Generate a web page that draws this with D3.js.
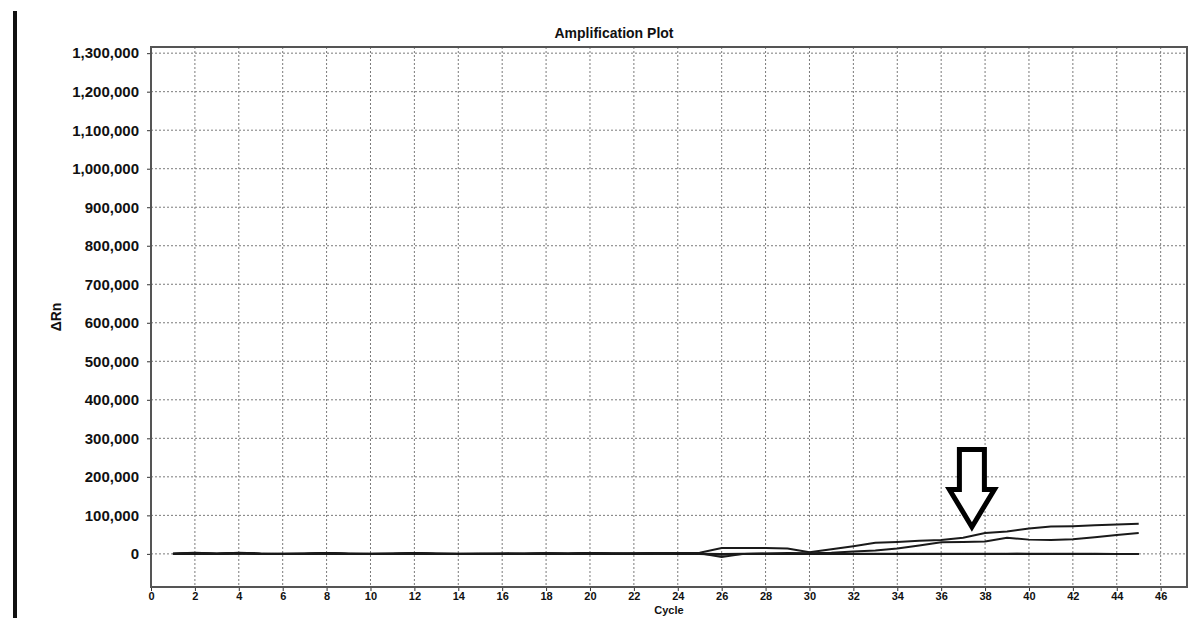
<!DOCTYPE html>
<html>
<head>
<meta charset="utf-8">
<script src="https://cdn.jsdelivr.net/npm/d3@7"></script>
<style>
  body { margin: 0; background: #fff; }
  text { font-family: "Liberation Sans", Arial, sans-serif; font-weight: bold; fill: #111; }
</style>
</head>
<body>
<script>
// cycles on the x axis
const cycles = [1, 2, 3, 4, 5, 6, 7, 8, 9, 10, 11, 12, 13, 14, 15, 16, 17, 18, 19, 20,
  21, 22, 23, 24, 25, 26, 27, 28, 29, 30, 31, 32, 33, 34, 35, 36, 37, 38, 39, 40,
  41, 42, 43, 44, 45];

// delta Rn per cycle
const wellA = [1000, 3000, 1000, 2000, 0, 500, 1000, 2000, 0, 500, 1000, 1500, 500, 0, 1000,
  500, 1000, 1500, 1000, 2000, 1500, 1000, 2000, 2500, 3000, 15000, 15000, 15000, 14000, 4000,
  12000, 20000, 29000, 31000, 34000, 36000, 42000, 54000, 58000, 66000, 71000, 72000, 74000, 76000, 78000];
const wellB = [0, 2000, 500, 3000, 1000, 0, 500, 2000, 1000, 0, 500, 2000, 1000, 500, 0,
  1000, 500, 1500, 1000, 2500, 1000, 1500, 2000, 2000, 1500, -8000, 0, 1000, 2000, 1500,
  3000, 6000, 9000, 14000, 22000, 30000, 31000, 32000, 42000, 37000, 36000, 38000, 43000, 49000, 54000];
const wellC = [0, 1500, 0, 2500, 500, 0, 0, 1500, 500, 0, 0, 1000, 0, 0, 500,
  0, 0, 500, 0, 1500, 500, 0, 1000, 500, 0, -2000, 0, 0, 500, 0,
  0, 500, 0, 0, 500, 0, 0, 0, 500, 0, 0, 0, 500, 0, 0];
const wellD = [0, 0, 500, 1000, 0, 0, 500, 1000, 0, 0, 500, 500, 0, 500, 0,
  500, 0, 0, 500, 1000, 0, 500, 500, 0, 0, 0, 500, 0, 0, 500,
  0, 0, 500, 0, 0, 500, 0, 500, 0, 0, 500, 0, 0, 0, 0];
const wellE = [500, 1000, 0, 1500, 0, 500, 0, 500, 0, 500, 0, 1000, 500, 0, 0,
  0, 500, 1000, 0, 500, 0, 0, 500, 1000, 500, 0, 0, 500, 0, 0,
  500, 0, 0, 500, 0, 0, 500, 0, 0, 500, 0, 500, 0, 0, 0];
const series = [wellC, wellD, wellE, wellB, wellA];

const xTicks = [0, 2, 4, 6, 8, 10, 12, 14, 16, 18, 20, 22, 24, 26, 28, 30, 32, 34, 36, 38, 40, 42, 44, 46];
const yTicks = [0, 100000, 200000, 300000, 400000, 500000, 600000, 700000, 800000, 900000,
  1000000, 1100000, 1200000, 1300000];

// where the arrow points (cycle, delta Rn)
const arrowAt = [37.4, 70000];

const width = 1203, height = 618;
const margin = { left: 151, right: 16, top: 47, bottom: 31 };

const svg = d3.select('body').append('svg')
  .attr('width', width)
  .attr('height', height);

const x = d3.scaleLinear().domain([0, 47.2]).range([margin.left, width - margin.right]);
const y = d3.scaleLinear().domain([-86000, 1316000]).range([height - margin.bottom, margin.top]);

// black bar on the far left of the screenshot
svg.append('rect')
  .attr('x', 13).attr('y', 11)
  .attr('width', 4).attr('height', height - 11)
  .attr('fill', '#111');

// grid
const grid = svg.append('g').attr('stroke', '#7a7a7a').attr('stroke-dasharray', '2,2').attr('stroke-width', 1);
grid.selectAll('line.gx').data(xTicks.filter(d => d > 0)).enter().append('line')
  .attr('x1', d => x(d)).attr('x2', d => x(d))
  .attr('y1', y.range()[1]).attr('y2', y.range()[0]);
grid.selectAll('line.gy').data(yTicks).enter().append('line')
  .attr('x1', x.range()[0]).attr('x2', x.range()[1])
  .attr('y1', d => y(d)).attr('y2', d => y(d));

// axes
const fmt = d3.format(',');
const yAxis = svg.append('g')
  .attr('transform', `translate(${x.range()[0]},0)`)
  .call(d3.axisLeft(y).tickValues(yTicks).tickFormat(fmt).tickSize(4).tickPadding(8));
yAxis.selectAll('text').style('font-size', '15px');

const xAxis = svg.append('g')
  .attr('transform', `translate(0,${y.range()[0]})`)
  .call(d3.axisBottom(x).tickValues(xTicks).tickSize(4).tickPadding(1));
xAxis.selectAll('text').style('font-size', '11px');

svg.selectAll('.domain').remove();
svg.selectAll('.tick line').attr('stroke', '#333');

// plot frame
svg.append('rect')
  .attr('x', x.range()[0]).attr('y', y.range()[1])
  .attr('width', x.range()[1] - x.range()[0])
  .attr('height', y.range()[0] - y.range()[1])
  .attr('fill', 'none').attr('stroke', '#555').attr('stroke-width', 2);

// curves
const line = d3.line()
  .x((d, i) => x(cycles[i]))
  .y(d => y(d));

svg.append('g').selectAll('path').data(series).enter().append('path')
  .attr('d', line)
  .attr('fill', 'none')
  .attr('stroke', '#1a1a1a')
  .attr('stroke-width', 2);

// arrow
const ax = x(arrowAt[0]), ay = y(arrowAt[1]);
const arrowShape = [[-12.5, -77.5], [12.5, -77.5], [12.5, -37.5], [22.5, -37.5], [0, 0], [-22.5, -37.5], [-12.5, -37.5]];
svg.append('path')
  .attr('d', 'M' + arrowShape.map(p => [ax + p[0], ay + p[1]].join(',')).join('L') + 'Z')
  .attr('fill', '#fff')
  .attr('stroke', '#000')
  .attr('stroke-width', 5)
  .attr('stroke-linejoin', 'miter');

// titles
svg.append('text')
  .attr('x', 614).attr('y', 38)
  .attr('text-anchor', 'middle')
  .style('font-size', '14px')
  .text('Amplification Plot');

svg.append('text')
  .attr('x', (x.range()[0] + x.range()[1]) / 2).attr('y', 614)
  .attr('text-anchor', 'middle')
  .style('font-size', '11px')
  .text('Cycle');

svg.append('text')
  .attr('transform', `translate(61,${(y.range()[0] + y.range()[1]) / 2}) rotate(-90)`)
  .attr('text-anchor', 'middle')
  .style('font-size', '14px')
  .text('ΔRn');
</script>
</body>
</html>
